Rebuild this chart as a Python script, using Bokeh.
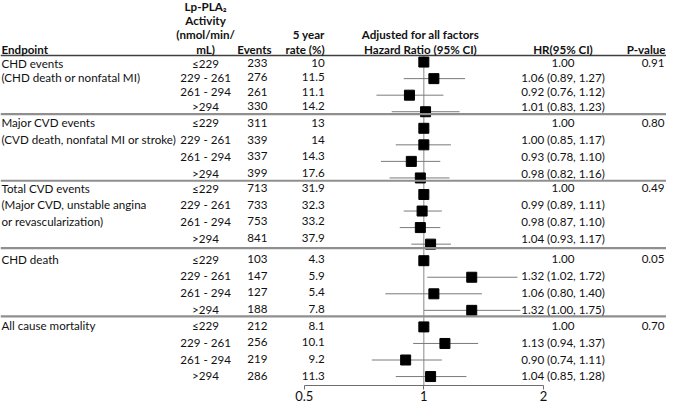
import math
from bokeh.plotting import figure
from bokeh.models import ColumnDataSource, LabelSet, Range1d, FixedTicker, Span
from bokeh.embed import file_html
from bokeh.resources import INLINE
from bokeh.core.properties import value

# ---------------- data ----------------
endpoint_lines = [
    ["CHD events", "(CHD death or nonfatal MI)"],
    ["Major CVD events", "(CVD death, nonfatal MI or stroke)"],
    ["Total CVD events", "(Major CVD, unstable angina", "or revascularization)"],
    ["CHD death"],
    ["All cause mortality"],
]
activity_groups = ["\u2264229", "229 - 261", "261 - 294", ">294"]
events = [233, 276, 261, 330,
          311, 339, 337, 399,
          713, 733, 753, 841,
          103, 147, 127, 188,
          212, 256, 219, 286]
rate5 = ["10", "11.5", "11.1", "14.2",
         "13", "14", "14.3", "17.6",
         "31.9", "32.3", "33.2", "37.9",
         "4.3", "5.9", "5.4", "7.8",
         "8.1", "10.1", "9.2", "11.3"]
hr = [1.00, 1.06, 0.92, 1.01,
      1.00, 1.00, 0.93, 0.98,
      1.00, 0.99, 0.98, 1.04,
      1.00, 1.32, 1.06, 1.32,
      1.00, 1.13, 0.90, 1.04]
ci_lo = [None, 0.89, 0.76, 0.83,
         None, 0.85, 0.78, 0.82,
         None, 0.89, 0.87, 0.93,
         None, 1.02, 0.80, 1.00,
         None, 0.94, 0.74, 0.85]
ci_hi = [None, 1.27, 1.12, 1.23,
         None, 1.17, 1.10, 1.16,
         None, 1.11, 1.10, 1.17,
         None, 1.72, 1.40, 1.75,
         None, 1.37, 1.11, 1.28]
p_values = ["0.91", "0.80", "0.49", "0.05", "0.70"]
x_ticks = [0.5, 1, 2]

# ---------------- layout ----------------
W, H = 666, 403
SX = W / 682.0
def px(x):
    return x * SX

FONT = "Lato"
FS = "11.6px"
TXT = "#111111"

n_rows = len(hr)
rows = list(range(n_rows))
AXIS_K = 19.54
TOP_K = -3.72
RULE_K = -0.4
# table grid (text rows) sits slightly differently from the plotted rows
BLOCK_TOP = [0.06, 3.66, 7.63, 11.92, 15.92]
BLOCK_STEP = [0.87, 1.02, 1.0, 1.0, 1.01]
SEPARATORS = [3.14, 7.17, 11.24, 15.36]
def text_y(r):
    blk, i = divmod(r, 4)
    return BLOCK_TOP[blk] + i * BLOCK_STEP[blk]

# log x range so that 0.5 and 2 land at the reference pixel positions
x05, x2 = px(311), px(556)
b = (x2 - x05) / math.log(4)
ln_start = math.log(0.5) - x05 / b
ln_end = math.log(2) + (W - x2) / b

p = figure(width=W, height=H, x_axis_type="log",
           x_range=Range1d(math.exp(ln_start), math.exp(ln_end)),
           y_range=Range1d(AXIS_K, TOP_K),
           y_axis_location=None, output_backend="svg", toolbar_location=None,
           min_border=0, min_border_left=0, min_border_right=0, min_border_top=0)
p.outline_line_color = None
p.xgrid.visible = False
p.ygrid.visible = False
p.background_fill_color = "white"

# rules
p.add_layout(Span(location=RULE_K, dimension="width", line_color="#404040", line_width=1.5))
for s in SEPARATORS:
    p.add_layout(Span(location=s, dimension="width", line_color="#8f8f8f", line_width=2.2))

# null line
p.segment(x0=[1], x1=[1], y0=[RULE_K], y1=[AXIS_K], line_color="#8a8a8a", line_width=1)

# CIs
ci_rows = [r for r in rows if ci_lo[r] is not None]
p.segment(x0=[ci_lo[r] for r in ci_rows], x1=[ci_hi[r] for r in ci_rows],
          y0=ci_rows, y1=ci_rows, line_color="#7a7a7a", line_width=1)
p.scatter(x=hr, y=rows, marker="square", size=10, fill_color="black", line_color="black")

# axis
ax = p.xaxis[0]
ax.ticker = FixedTicker(ticks=x_ticks)
ax.bounds = (0.5, 2)
ax.major_label_overrides = {0.5: "0.5", 1: "1", 2: "2"}
ax.axis_line_color = "#6e6e6e"
ax.major_tick_line_color = "#6e6e6e"
ax.major_tick_in = 0
ax.major_tick_out = 4
ax.minor_tick_line_color = None
ax.major_label_standoff = 1
ax.major_label_text_font = FONT
ax.major_label_text_font_size = "13px"
ax.major_label_text_color = TXT

# ---------------- texts ----------------
items = {}  # (align, style) -> lists
def add(x, y, t, align="center", style="normal"):
    d = items.setdefault((align, style), {"x": [], "y": [], "t": []})
    d["x"].append(x); d["y"].append(y); d["t"].append(t)

# headers
H1, H2, H3, H4 = -3.35, -2.52, -1.66, -0.75
add(px(1), H4, "Endpoint", "left", "bold")
for y, t in zip([H1, H2, H3, H4], ["Lp-PLA\u2082", "Activity", "(nmol/min/", "mL)"]):
    add(px(210), y, t, "center", "bold")
add(px(260), H4, "Events", "center", "bold")
add(px(332), H3, "5 year", "right", "bold")
add(px(332), H4, "rate (%)", "right", "bold")
add(px(430), H3, "Adjusted for all factors", "center", "bold")
add(px(430), H4, "Hazard Ratio (95% CI)", "center", "bold")
add(px(576), H4, "HR(95% CI)", "center", "bold")
add(px(681), H4, "P-value", "right", "bold")

for blk, lines in enumerate(endpoint_lines):
    for i, t in enumerate(lines):
        add(px(1), text_y(4 * blk + i), t, "left")
    add(px(680), text_y(4 * blk), p_values[blk], "right")

for r in rows:
    y = text_y(r)
    add(px(210), y, activity_groups[r % 4], "center")
    add(px(263), y, str(events[r]), "center")
    add(px(332), y, rate5[r], "right")
    if ci_lo[r] is None:
        s = f"{hr[r]:.2f}"
    else:
        s = f"{hr[r]:.2f} ({ci_lo[r]:.2f}, {ci_hi[r]:.2f})"
    add(px(576), y, s, "center")

for (align, style), d in items.items():
    src = ColumnDataSource(dict(x=d["x"], y=d["y"], t=d["t"]))
    p.add_layout(LabelSet(x="x", y="y", text="t", source=src, x_units="screen", y_units="data",
                          text_align=align, text_baseline="middle",
                          text_font=value(FONT), text_font_size=value(FS),
                          text_font_style=value(style), text_color=value(TXT)))

open("out.html", "w").write(file_html(p, INLINE))
